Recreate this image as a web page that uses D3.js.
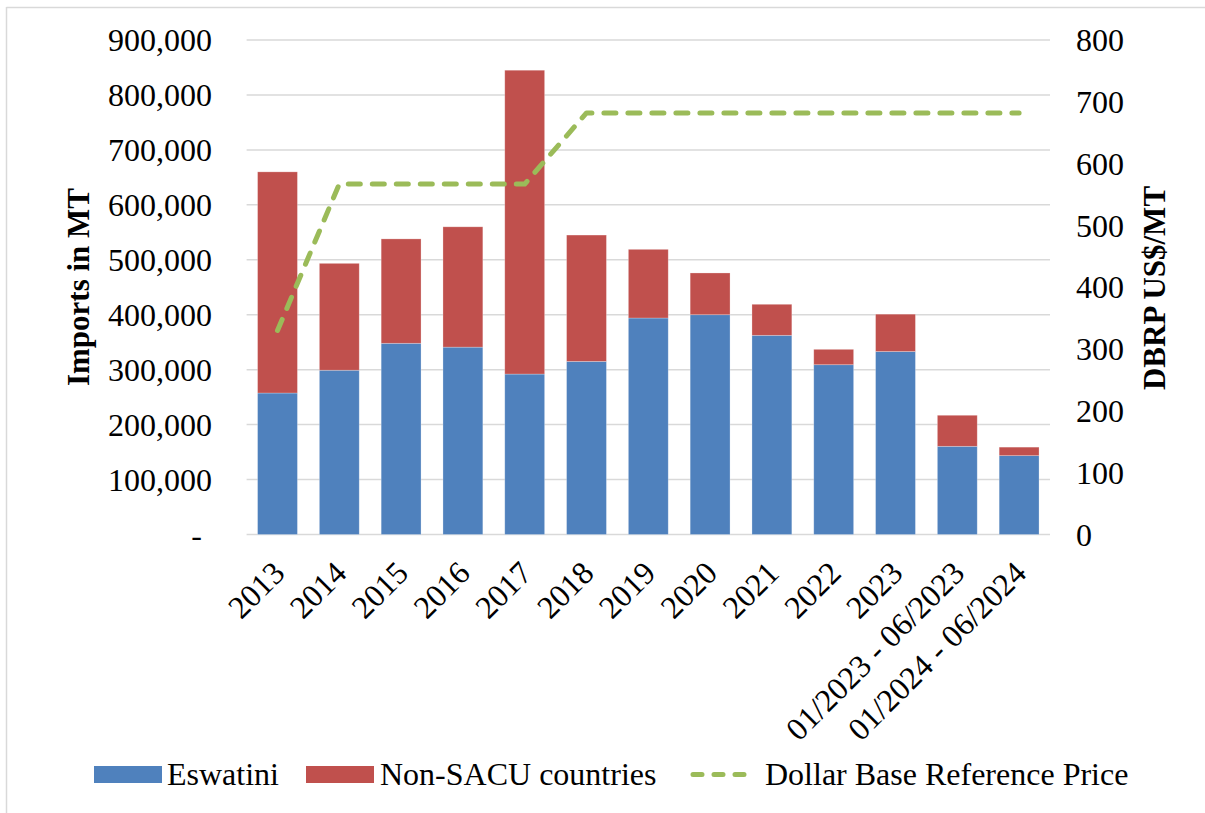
<!DOCTYPE html>
<html>
<head>
<meta charset="utf-8">
<script src="https://cdn.jsdelivr.net/npm/d3@7"></script>
<style>
  body { margin: 0; background: #fff; }
  svg { display: block; font-family: "Liberation Serif", "Times New Roman", serif; }
</style>
</head>
<body>
<svg id="chart" width="1205" height="813"></svg>
<script>
// ---------- data ----------
var categories = ['2013', '2014', '2015', '2016', '2017', '2018', '2019', '2020', '2021', '2022', '2023',
                  '01/2023 - 06/2023', '01/2024 - 06/2024'];
var eswatini = [257500, 299000, 348000, 341000, 292000, 315000, 394000, 400000, 362500, 309000, 333000, 160500, 143500];
var nonSacu  = [402500, 194500, 190000, 219000, 553000, 230000, 125000,  76000,  56500,  28000,  68000,  56500,  15500];
var dbrp     = [330, 567, 567, 567, 567, 682, 682, 682, 682, 682, 682, 682, 682];
var leftTicks = [0, 100000, 200000, 300000, 400000, 500000, 600000, 700000, 800000, 900000];
var rightTicks = [0, 100, 200, 300, 400, 500, 600, 700, 800];
var seriesNames = ['Eswatini', 'Non-SACU countries', 'Dollar Base Reference Price'];

var colors = {blue: '#4F81BD', red: '#C0504D', green: '#9BBB59', grid: '#D9D9D9'};

var svg = d3.select('#chart');
var plot = {left: 246.6, right: 1050, top: 40, bottom: 534.5};

// outer frame (only top/left visible in the picture)
svg.append('line').attr('x1', 6.5).attr('y1', 7.5).attr('x2', 1205).attr('y2', 7.5)
    .attr('stroke', '#D9D9D9').attr('stroke-width', 1.5);
svg.append('line').attr('x1', 6.5).attr('y1', 7).attr('x2', 6.5).attr('y2', 813)
    .attr('stroke', '#D9D9D9').attr('stroke-width', 1.5);

var x = d3.scaleBand().domain(categories).range([plot.left, plot.right]).paddingInner(0.355).paddingOuter(0.1775);
var yL = d3.scaleLinear().domain([0, 900000]).range([plot.bottom, plot.top]);
var yR = d3.scaleLinear().domain([0, 800]).range([plot.bottom, plot.top]);

//----------GRID----------
svg.append('g').selectAll('line').data(leftTicks).enter().append('line')
    .attr('x1', plot.left).attr('x2', plot.right)
    .attr('y1', function(d) {return yL(d);}).attr('y2', function(d) {return yL(d);})
    .attr('stroke', colors.grid).attr('stroke-width', 1.5);

//----------BARS----------
var stackData = categories.map(function(c, i) {return {cat: c, e: eswatini[i], n: nonSacu[i]};});
var stack = d3.stack().keys(['e', 'n'])(stackData);
var barColors = [colors.blue, colors.red];

svg.append('g').selectAll('g').data(stack).enter().append('g')
    .attr('fill', function(d, i) {return barColors[i];})
    .selectAll('rect').data(function(d) {return d;}).enter().append('rect')
    .attr('x', function(d) {return x(d.data.cat);})
    .attr('width', x.bandwidth())
    .attr('y', function(d) {return yL(d[1]);})
    .attr('height', function(d) {return yL(d[0]) - yL(d[1]);})
    .attr('stroke', '#ffffff').attr('stroke-opacity', 0.35).attr('stroke-width', 0.75);

//----------LINE----------
var line = d3.line()
    .x(function(d, i) {return x(categories[i]) + x.bandwidth() / 2;})
    .y(function(d) {return yR(d);});

svg.append('path').datum(dbrp)
    .attr('d', line)
    .attr('fill', 'none')
    .attr('stroke', colors.green)
    .attr('stroke-width', 5)
    .attr('stroke-linecap', 'round')
    .attr('stroke-linejoin', 'round')
    .attr('stroke-dasharray', '12,12');

//----------AXES----------
var fmt = d3.format(',');
svg.append('g').selectAll('text').data(leftTicks).enter().append('text')
    .attr('x', 212).attr('y', function(d) {return yL(d);})
    .attr('dy', '0.35em')
    .attr('text-anchor', 'end')
    .attr('font-size', 32)
    .text(function(d) {return d === 0 ? '-' : fmt(d);})
    .attr('dx', function(d) {return d === 0 ? -10 : 0;});

svg.append('g').selectAll('text').data(rightTicks).enter().append('text')
    .attr('x', 1076).attr('y', function(d) {return yR(d);})
    .attr('dy', '0.35em')
    .attr('text-anchor', 'start')
    .attr('font-size', 32)
    .text(function(d) {return d;});

svg.append('g').selectAll('text').data(categories).enter().append('text')
    .attr('transform', function(d) {
        return 'translate(' + (x(d) + x.bandwidth() / 2 + 9) + ',575) rotate(-45)';
    })
    .attr('text-anchor', 'end')
    .attr('font-size', 32)
    .text(function(d) {return d;});

// axis titles
svg.append('text')
    .attr('transform', 'translate(89,287) rotate(-90)')
    .attr('text-anchor', 'middle')
    .attr('font-size', 31).attr('font-weight', 'bold')
    .text('Imports in MT');

svg.append('text')
    .attr('transform', 'translate(1165,288) rotate(-90)')
    .attr('text-anchor', 'middle')
    .attr('font-size', 31).attr('font-weight', 'bold')
    .text('DBRP US$/MT');

//----------LEGEND----------
var legend = svg.append('g').attr('font-size', 32);
var lx = [94, 306, 690];
legend.append('rect').attr('x', lx[0]).attr('y', 766).attr('width', 68).attr('height', 17).attr('fill', colors.blue);
legend.append('rect').attr('x', lx[1]).attr('y', 766).attr('width', 68).attr('height', 17).attr('fill', colors.red);
legend.append('line').attr('x1', lx[2] + 3).attr('x2', lx[2] + 60).attr('y1', 774.5).attr('y2', 774.5)
    .attr('stroke', colors.green).attr('stroke-width', 5).attr('stroke-linecap', 'round')
    .attr('stroke-dasharray', '9,12');
legend.selectAll('text.lbl').data(seriesNames).enter().append('text')
    .attr('class', 'lbl')
    .attr('x', function(d, i) {return [167, 380, 765][i];})
    .attr('y', 785)
    .text(function(d) {return d;});
</script>
</body>
</html>
